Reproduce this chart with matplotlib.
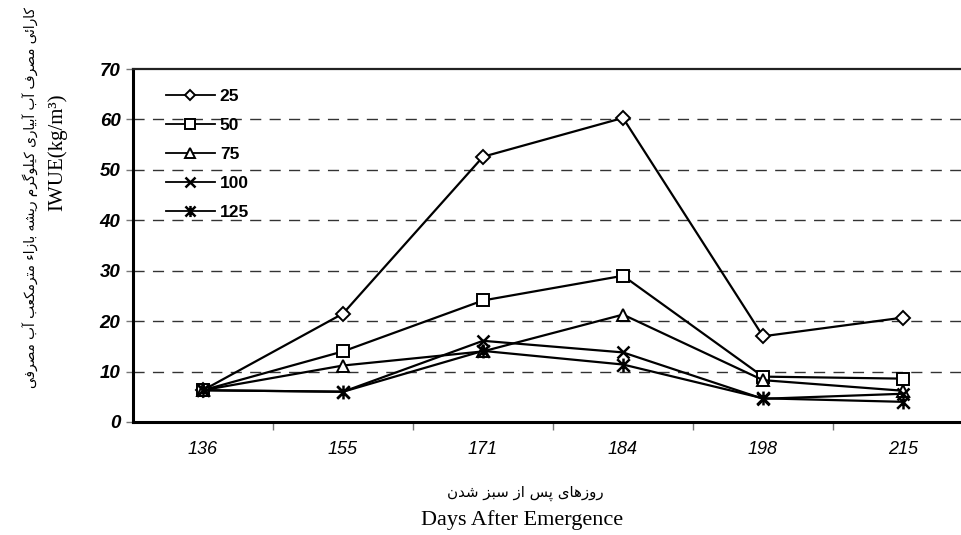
import matplotlib
matplotlib.use("Agg")
import matplotlib.pyplot as plt
from matplotlib.path import Path

# ---------------- data ----------------
days = ["136", "155", "171", "184", "198", "215"]
series_names = ["25", "50", "75", "100", "125"]
s25 = [6.3, 21.5, 52.6, 60.3, 17.0, 20.7]
s50 = [6.3, 14.0, 24.1, 29.0, 9.0, 8.6]
s75 = [6.3, 11.2, 14.0, 21.3, 8.3, 6.2]
s100 = [6.3, 6.0, 16.1, 13.8, 4.6, 5.6]
s125 = [6.3, 6.0, 14.1, 11.4, 4.7, 4.0]
yticks = [0, 10, 20, 30, 40, 50, 60, 70]

ylabel_fa = "کارائی مصرف آب آبیاری کیلوگرم ریشه بازاء مترمکعب آب مصرفی"
ylabel_en = "IWUE(kg/m³)"
xlabel_fa = "روزهای پس از سبز شدن"
xlabel_en = "Days After Emergence"

# ---------------- simple Persian shaping (presentation forms + RTL) ----------------
FORMS = {
    "ا": ("\uFE8D", "\uFE8E", None, None),
    "آ": ("\uFE81", "\uFE82", None, None),
    "د": ("\uFEA9", "\uFEAA", None, None),
    "ر": ("\uFEAD", "\uFEAE", None, None),
    "ز": ("\uFEAF", "\uFEB0", None, None),
    "و": ("\uFEED", "\uFEEE", None, None),
    "ء": ("\uFE80", None, None, None),
    "ب": ("\uFE8F", "\uFE90", "\uFE91", "\uFE92"),
    "پ": ("\uFB56", "\uFB57", "\uFB58", "\uFB59"),
    "ت": ("\uFE95", "\uFE96", "\uFE97", "\uFE98"),
    "س": ("\uFEB1", "\uFEB2", "\uFEB3", "\uFEB4"),
    "ش": ("\uFEB5", "\uFEB6", "\uFEB7", "\uFEB8"),
    "ص": ("\uFEB9", "\uFEBA", "\uFEBB", "\uFEBC"),
    "ع": ("\uFEC9", "\uFECA", "\uFECB", "\uFECC"),
    "ف": ("\uFED1", "\uFED2", "\uFED3", "\uFED4"),
    "ک": ("\uFB8E", "\uFB8F", "\uFB90", "\uFB91"),
    "گ": ("\uFB92", "\uFB93", "\uFB94", "\uFB95"),
    "ل": ("\uFEDD", "\uFEDE", "\uFEDF", "\uFEE0"),
    "م": ("\uFEE1", "\uFEE2", "\uFEE3", "\uFEE4"),
    "ن": ("\uFEE5", "\uFEE6", "\uFEE7", "\uFEE8"),
    "ه": ("\uFEE9", "\uFEEA", "\uFEEB", "\uFEEC"),
    "ی": ("\uFBFC", "\uFBFD", "\uFBFE", "\uFBFF"),
    "ئ": ("\uFE89", "\uFE8A", "\uFE8B", "\uFE8C"),
}


def _dual(c):
    return c in FORMS and FORMS[c][2] is not None


def _joins(c):
    return c in FORMS and FORMS[c][1] is not None


def shape_fa(text):
    out = []
    for i, c in enumerate(text):
        if c not in FORMS:
            out.append(c)
            continue
        prev = text[i - 1] if i > 0 else ""
        nxt = text[i + 1] if i + 1 < len(text) else ""
        jp = _dual(prev) and _joins(c)
        jn = _dual(c) and _joins(nxt)
        iso, fin, ini, med = FORMS[c]
        if jp and jn:
            out.append(med)
        elif jp:
            out.append(fin)
        elif jn:
            out.append(ini)
        else:
            out.append(iso)
    return "".join(out)[::-1]


# ---------------- figure ----------------
W, H = 961, 535
fig = plt.figure(figsize=(W / 100, H / 100), dpi=100)
ax = fig.add_axes([133 / W, 1 - 422 / H, 840 / W, (422 - 69) / H])

star = Path([(-1, -1), (1, 1), (-1, 1), (1, -1), (0, -1.1), (0, 1.1)],
            [Path.MOVETO, Path.LINETO, Path.MOVETO, Path.LINETO, Path.MOVETO, Path.LINETO])

styles = [
    dict(marker="D", markersize=7),
    dict(marker="s", markersize=8.5),
    dict(marker="^", markersize=8.5),
    dict(marker="x", markersize=9, markeredgewidth=1.8),
    dict(marker=star, markersize=10, markeredgewidth=1.8),
]
all_series = [s25, s50, s75, s100, s125]
x = list(range(len(days)))
for name, vals, st in zip(series_names, all_series, styles):
    kw = dict(color="black", linewidth=1.6, markerfacecolor="white",
              markeredgecolor="black", markeredgewidth=1.4)
    kw.update(st)
    ax.plot(x, vals, label=name, **kw)

ax.set_xlim(-0.5, len(days) - 0.5)
ax.set_ylim(0, 70)
ax.set_yticks(yticks)
ax.set_yticklabels([str(v) for v in yticks], fontfamily="Liberation Sans",
                   fontweight="bold", fontstyle="italic", fontsize=13.5)
ax.set_xticks(x)
ax.set_xticklabels(days, fontfamily="Liberation Sans", fontstyle="italic", fontsize=13)
ax.set_xticks([i + 0.5 for i in x], minor=True)
ax.tick_params(axis="x", which="major", length=0, pad=14)
ax.tick_params(axis="x", which="minor", length=6, width=1, color="#777777", direction="out")
ax.tick_params(axis="y", length=5, width=1, color="#777777", direction="out", pad=4)

for yv in yticks[1:-1]:
    ax.axhline(yv, color="#333333", linewidth=1.0, linestyle=(0, (8, 6)), zorder=0)

for side in ["left", "bottom"]:
    ax.spines[side].set_linewidth(2.2)
    ax.spines[side].set_color("black")
ax.spines["top"].set_linewidth(1.6)
ax.spines["top"].set_color("#222222")
ax.spines["right"].set_visible(False)

leg = ax.legend(loc="upper left", bbox_to_anchor=(166 / W, 1 - 89 / H),
                bbox_transform=fig.transFigure, frameon=False, numpoints=1,
                handlelength=2.8, handletextpad=0.3, labelspacing=0.8,
                borderaxespad=0, borderpad=0, markerscale=0.8,
                prop=dict(family="Liberation Sans", weight="bold", size=12.5))
for ln in leg.get_lines():
    ln.set_linewidth(1.3)

# axis labels
fig.text(31 / W, 1 - 198 / H, shape_fa(ylabel_fa), rotation=90, ha="center", va="center",
         fontfamily="DejaVu Sans", fontsize=9.8)
fig.text(57 / W, 1 - 152 / H, ylabel_en, rotation=90, ha="center", va="center",
         fontfamily="Liberation Serif", fontsize=15)
fig.text(525 / W, 1 - 493 / H, shape_fa(xlabel_fa), ha="center", va="center",
         fontfamily="DejaVu Sans", fontsize=10.8)
fig.text(522 / W, 1 - 520 / H, xlabel_en, ha="center", va="center",
         fontfamily="Liberation Serif", fontsize=16)

fig.savefig("out.png", dpi=100)
